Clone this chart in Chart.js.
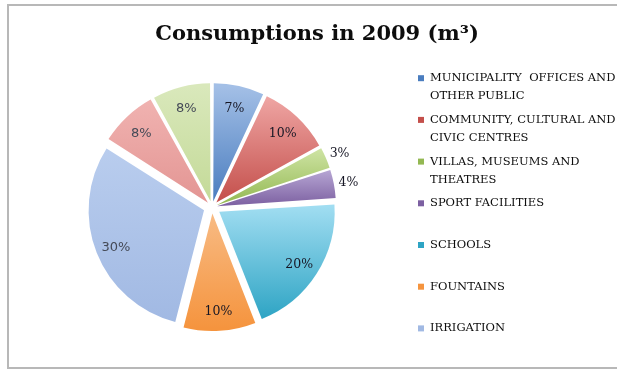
<!DOCTYPE html>
<html>
<head>
<meta charset="utf-8">
<title>Consumptions in 2009</title>
<script src="https://cdn.jsdelivr.net/npm/chart.js@4/dist/chart.umd.min.js"></script>
<style>
  html, body { margin: 0; padding: 0; background: #ffffff; overflow: hidden; }
  #c { display: block; }
</style>
</head>
<body>
<canvas id="c" width="617" height="370"></canvas>
<script>
// Legend entries (one array per entry, one string per printed line)
const categories = [
  ['MUNICIPALITY  OFFICES AND', 'OTHER PUBLIC'],
  ['COMMUNITY, CULTURAL AND', 'CIVIC CENTRES'],
  ['VILLAS, MUSEUMS AND', 'THEATRES'],
  ['SPORT FACILITIES'],
  ['SCHOOLS'],
  ['FOUNTAINS'],
  ['IRRIGATION']
];

// Share of the yearly consumption, in percent, clockwise from 12 o'clock
const shares = [7, 10, 3, 4, 20, 10, 30, 8, 8];

// Two-tone shading of every slice (upper colour, lower colour)
const sliceTop    = ['#a3bfe6', '#eea4a2', '#cde3a2', '#b6a5d3', '#a2def2', '#f8bb84', '#b9cdee', '#f0b2b0', '#d9e8bb'];
const sliceBottom = ['#4a7dbf', '#c44f4b', '#93b852', '#7c60a1', '#2ea4c4', '#f5943e', '#a1b9e3', '#e39593', '#c4da98'];

const PIE_RADIUS = 115;
const EXPLODE = 9;          // distance every slice is pulled out of the centre
const TAU = Math.PI * 2;
const total = shares.reduce((a, b) => a + b, 0);

function sliceAngles(i) {
  let before = 0;
  for (let k = 0; k < i; k++) before += shares[k];
  const a0 = -Math.PI / 2 + before / total * TAU;
  return [a0, a0 + shares[i] / total * TAU];
}

// vertical gradient spanning the slice's own height
function sliceFill(ctx) {
  const i = ctx.dataIndex;
  const chart = ctx.chart;
  const area = chart.chartArea;
  if (!area) return sliceBottom[i];
  const [a0, a1] = sliceAngles(i);
  const cy = (area.top + area.bottom) / 2;
  const ys = [0, Math.sin(a0) * PIE_RADIUS, Math.sin(a1) * PIE_RADIUS];
  [-Math.PI / 2, Math.PI / 2, Math.PI * 1.5].forEach(t => {
    if (a0 <= t && a1 >= t) ys.push(Math.sin(t) * PIE_RADIUS);
  });
  const g = chart.ctx.createLinearGradient(0, cy + Math.min(...ys), 0, cy + Math.max(...ys));
  g.addColorStop(0, sliceTop[i]);
  g.addColorStop(1, sliceBottom[i]);
  return g;
}

// same pull-out distance for every slice, whatever its size
function sliceOffset(ctx) {
  const circ = shares[ctx.dataIndex] / total * TAU;
  const fix = 1 - Math.sin(Math.min(Math.PI, circ));
  return 4 * EXPLODE / (1 + fix);
}

// open grey frame (top, left and bottom edges)
const chartFrame = {
  id: 'chartFrame',
  beforeDraw(chart) {
    const c = chart.ctx;
    c.save();
    c.fillStyle = '#ffffff';
    c.fillRect(0, 0, chart.width, chart.height);
    c.strokeStyle = '#b8b8b8';
    c.lineWidth = 2;
    c.beginPath();
    c.moveTo(chart.width, 5);
    c.lineTo(8, 5);
    c.lineTo(8, 368);
    c.lineTo(chart.width, 368);
    c.stroke();
    c.restore();
  }
};

// percentage labels
const sliceLabels = {
  id: 'sliceLabels',
  afterDatasetsDraw(chart) {
    const meta = chart.getDatasetMeta(0);
    const c = chart.ctx;
    c.save();
    c.textAlign = 'center';
    c.textBaseline = 'middle';
    meta.data.forEach((arc, i) => {
      const p = arc.getProps(['x', 'y', 'startAngle', 'endAngle', 'outerRadius'], true);
      const mid = (p.startAngle + p.endAngle) / 2;
      const small = shares[i] < 5;
      const dist = small ? p.outerRadius + EXPLODE + 15 : EXPLODE + p.outerRadius * 0.82;
      const x = p.x + Math.cos(mid) * dist;
      const y = p.y + 2 + Math.sin(mid) * dist;
      const pale = i >= 6;
      c.font = pale ? '13px "DejaVu Sans"' : '12.5px "DejaVu Serif"';
      c.fillStyle = pale ? '#454a57' : '#161624';
      c.fillText(shares[i] + '%', x, y);
    });
    c.restore();
  }
};

// legend column on the right, laid out as a chart box
const sideLegend = {
  id: 'sideLegend',
  beforeInit(chart) {
    const box = {
      position: 'right',
      weight: 0,
      fullSize: false,
      options: {},
      left: 0, top: 0, right: 0, bottom: 0, width: 0, height: 0,
      isHorizontal() { return false; },
      update(maxWidth, maxHeight) { this.width = 210; this.height = maxHeight; },
      draw() {
        const c = chart.ctx;
        const pitch = 41.7, lineGap = 18;
        c.save();
        c.font = '11.5px "DejaVu Serif"';
        c.textAlign = 'left';
        c.textBaseline = 'middle';
        categories.forEach((lines, i) => {
          const y = this.top + 19 + pitch * i;
          c.fillStyle = sliceBottom[i];
          c.fillRect(this.left + 11, y - 3, 6, 6);
          c.fillStyle = '#0d0d0d';
          lines.forEach((t, k) => c.fillText(t, this.left + 23, y + k * lineGap));
        });
        c.restore();
      }
    };
    Chart.layouts.addBox(chart, box);
  }
};

new Chart(document.getElementById('c'), {
  type: 'pie',
  data: {
    labels: shares.map((v, i) => categories[i] ? categories[i].join(' ') : ''),
    datasets: [{
      data: shares,
      backgroundColor: sliceFill,
      borderWidth: 0,
      offset: sliceOffset
    }]
  },
  options: {
    responsive: false,
    animation: false,
    events: [],
    radius: PIE_RADIUS,
    layout: { padding: { left: 17, right: 0, top: 0, bottom: 15 } },
    plugins: {
      legend: { display: false },
      tooltip: { enabled: false },
      title: {
        display: true,
        text: 'Consumptions in 2009 (m³)',
        color: '#0d0d0d',
        font: { family: '"DejaVu Serif"', weight: 'bold', size: 21 },
        padding: { top: 22, bottom: 12 }
      }
    }
  },
  plugins: [chartFrame, sliceLabels, sideLegend]
});
</script>
</body>
</html>
